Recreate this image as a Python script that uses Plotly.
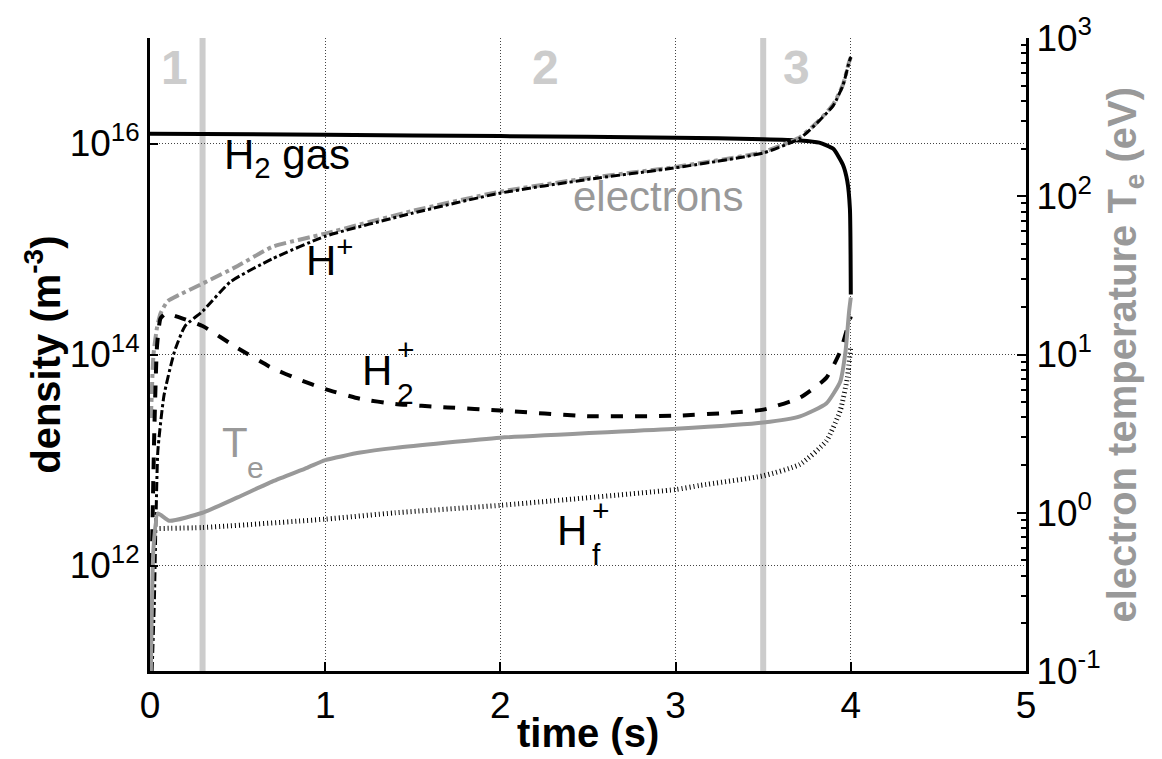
import plotly.graph_objects as go

# ---------------- data ----------------
t_h2 = [0, 1.0, 2.0, 3.0, 3.5, 3.71, 3.82, 3.9, 3.955, 3.98, 3.995, 4.0]
n_h2 = [1.24e16, 1.21e16, 1.175e16, 1.135e16, 1.10e16, 1.07e16, 1.02e16, 8.9e15, 6.3e15, 4.4e15, 2.4e15, 3.7e14]

t_e = [0.005, 0.02, 0.04, 0.06, 0.1, 0.17, 0.3, 0.5, 0.7, 1.0, 1.5, 2.0, 2.5, 3.0, 3.5, 3.71, 3.81, 3.9, 3.955, 3.99, 4.0]
n_e = [2.5e13, 1.0e14, 1.8e14, 2.45e14, 3.2e14, 3.7e14, 4.7e14, 6.9e14, 1.05e15, 1.4e15, 2.3e15, 3.5e15,
       4.7e15, 6.0e15, 8.3e15, 1.15e16, 1.6e16, 2.35e16, 3.6e16, 5.9e16, 6.6e16]

t_hp = [0.012, 0.025, 0.035, 0.045, 0.08, 0.14, 0.2, 0.3, 0.46, 0.7, 1.0, 1.5, 2.0, 2.5, 3.0, 3.5, 3.71, 3.81, 3.9, 3.955, 3.99, 4.0]
n_hp = [1.0e11, 4.7e11, 3.2e12, 1.23e13, 4.1e13, 1.07e14, 1.86e14, 2.57e14, 4.9e14, 8.1e14, 1.32e15, 2.19e15,
        3.39e15, 4.57e15, 5.89e15, 8.13e15, 1.12e16, 1.58e16, 2.29e16, 3.55e16, 5.89e16, 6.6e16]

t_h2p = [0.01, 0.025, 0.04, 0.06, 0.09, 0.15, 0.3, 0.5, 0.7, 0.85, 1.0, 1.2, 1.4, 1.7, 2.0, 2.5, 3.0, 3.3, 3.5, 3.71, 3.86, 3.94, 3.975, 4.0]
n_h2p = [1.0e12, 2.0e13, 1.2e14, 2.2e14, 2.45e14, 2.3e14, 1.86e14, 1.15e14, 7.4e13, 5.8e13, 4.7e13, 3.8e13, 3.4e13,
         3.15e13, 2.95e13, 2.6e13, 2.63e13, 2.8e13, 3.0e13, 3.9e13, 6.0e13, 1.07e14, 1.66e14, 2.3e14]

t_hf = [0.03, 0.3, 1.0, 1.4, 2.0, 3.0, 3.14, 3.5, 3.71, 3.86, 3.94, 3.98, 4.0]
n_hf = [2.24e12, 2.29e12, 2.75e12, 3.16e12, 3.72e12, 5.25e12, 5.75e12, 7.08e12, 9.1e12, 1.51e13, 2.95e13, 6.0e13, 1.2e14]

t_te = [0.005, 0.02, 0.045, 0.11, 0.3, 0.5, 0.7, 0.9, 1.0, 1.2, 1.4, 2.0, 3.0, 3.5, 3.71, 3.86, 3.94, 3.97, 3.99, 4.0]
te = [0.1, 0.6, 0.99, 0.89, 1.0, 1.25, 1.58, 1.93, 2.15, 2.4, 2.57, 2.98, 3.39, 3.72, 4.07, 4.9, 6.76, 10.5, 18.6, 22.9]

phase_bounds = [0.3, 3.5]
phase_labels = ["1", "2", "3"]
phase_label_t = [0.14, 2.26, 3.69]

x_ticks = [0, 1, 2, 3, 4, 5]
y_ticks = [1e12, 1e14, 1e16]
y_ticktext = ["10<sup>12</sup>", "10<sup>14</sup>", "10<sup>16</sup>"]
y2_ticks = [0.1, 1, 10, 100, 1000]
y2_ticktext = ["10<sup>-1</sup>", "10<sup>0</sup>", "10<sup>1</sup>", "10<sup>2</sup>", "10<sup>3</sup>"]
y2_minor = [m * 10 ** d for d in range(-1, 3) for m in range(2, 10)]

FONT = "Liberation Sans, Arial, sans-serif"
GREY = "#999999"
LIGHT = "#cccccc"
SM = 0.5

fig = go.Figure()

# phase boundaries
for tb in phase_bounds:
    fig.add_shape(type="line", xref="x", yref="paper", x0=tb, x1=tb, y0=0, y1=1,
                  line=dict(color=LIGHT, width=6), layer="between")

fig.add_trace(go.Scatter(x=t_h2, y=n_h2, mode="lines", line=dict(color="black", width=4, shape="spline", smoothing=SM), showlegend=False))
fig.add_trace(go.Scatter(x=t_e, y=n_e, mode="lines", line=dict(color=GREY, width=4, dash="dashdot", shape="spline", smoothing=SM), showlegend=False))
fig.add_trace(go.Scatter(x=t_hp, y=n_hp, mode="lines", line=dict(color="black", width=3, dash="dashdot", shape="spline", smoothing=SM), showlegend=False))
fig.add_trace(go.Scatter(x=t_h2p, y=n_h2p, mode="lines", line=dict(color="black", width=4, dash="dash", shape="spline", smoothing=SM), showlegend=False))
fig.add_trace(go.Scatter(x=t_hf, y=n_hf, mode="lines", line=dict(color="black", width=5, dash="1px,3px", shape="spline", smoothing=SM), showlegend=False))
fig.add_trace(go.Scatter(x=t_te, y=te, mode="lines", yaxis="y2", line=dict(color=GREY, width=4, shape="spline", smoothing=SM), showlegend=False))

ann = []
for lab_, tx in zip(phase_labels, phase_label_t):
    ann.append(dict(x=tx, y=16.72, xref="x", yref="y", text="<b>%s</b>" % lab_, showarrow=False,
                    font=dict(family=FONT, size=48, color=LIGHT)))

def lab(x, y, text, color="black", size=42, **kw):
    d = dict(x=x, y=y, xref="x", yref="y", text=text, showarrow=False,
             font=dict(family=FONT, size=size, color=color))
    d.update(kw)
    ann.append(d)

lab(0.41, 15.87, "H<sub>2</sub> gas", xanchor="left")
lab(2.90, 15.50, "electrons", color=GREY)
lab(1.03, 14.92, "H<sup>+</sup>")
# H2+ with stacked scripts
lab(1.20, 13.85, "H", xanchor="left")
lab(1.40, 13.63, "2", size=30, xanchor="left")
lab(1.40, 14.05, "+", size=30, xanchor="left")
# Te
lab(0.40, 13.17, "T", color=GREY, xanchor="left")
lab(0.54, 12.93, "e", color=GREY, size=30, xanchor="left")
# Hf+
lab(2.31, 12.33, "H", xanchor="left")
lab(2.51, 12.10, "f", size=30, xanchor="left")
lab(2.51, 12.52, "+", size=30, xanchor="left")

# axis titles
ann.append(dict(x=-0.123, y=0.5, xref="paper", yref="paper", text="<b>density (m<sup>-3</sup>)</b>",
                xanchor="center", yanchor="middle",
                textangle=-90, showarrow=False, font=dict(family=FONT, size=40, color="black")))
ann.append(dict(x=1.112, y=0.5, xref="paper", yref="paper", text="<b>electron temperature T<sub>e</sub> (eV)</b>",
                xanchor="center", yanchor="middle",
                textangle=-90, showarrow=False, font=dict(family=FONT, size=40, color=GREY)))
ann.append(dict(x=0.5, y=-0.098, xref="paper", yref="paper", text="<b>time (s)</b>", xanchor="center", yanchor="middle",
                showarrow=False, font=dict(family=FONT, size=40, color="black")))

fig.update_layout(
    width=1162, height=759,
    margin=dict(l=150, r=136, t=36, b=88),
    paper_bgcolor="white", plot_bgcolor="white",
    font=dict(family=FONT, size=37, color="black"),
    annotations=ann,
    xaxis=dict(range=[0, 5], tickvals=x_ticks, ticks="inside", ticklen=9, tickwidth=2, tickcolor="black",
               showline=True, linewidth=3, linecolor="black", mirror=False, zeroline=False,
               showgrid=True, gridcolor="#444444", gridwidth=1, griddash="1px,2px",
               tickfont=dict(size=37)),
    yaxis=dict(type="log", range=[11, 17], tickvals=y_ticks, ticktext=y_ticktext, ticks="inside", ticklen=8,
               tickwidth=2, tickcolor="black", showline=True, linewidth=3, linecolor="black", mirror=False,
               zeroline=False, showgrid=True, gridcolor="#444444", gridwidth=1, griddash="1px,2px",
               tickfont=dict(size=37)),
    yaxis2=dict(type="log", range=[-1, 3], overlaying="y", side="right", tickvals=y2_ticks, ticktext=y2_ticktext,
                ticks="inside", ticklen=9, tickwidth=2, tickcolor="black", showline=True, linewidth=3,
                linecolor="black", showgrid=False, zeroline=False, tickfont=dict(size=37),
                minor=dict(tickmode="array", tickvals=y2_minor, ticks="inside", ticklen=5, tickwidth=2,
                           tickcolor="black", showgrid=False)),
)

fig.write_html("out.html")
